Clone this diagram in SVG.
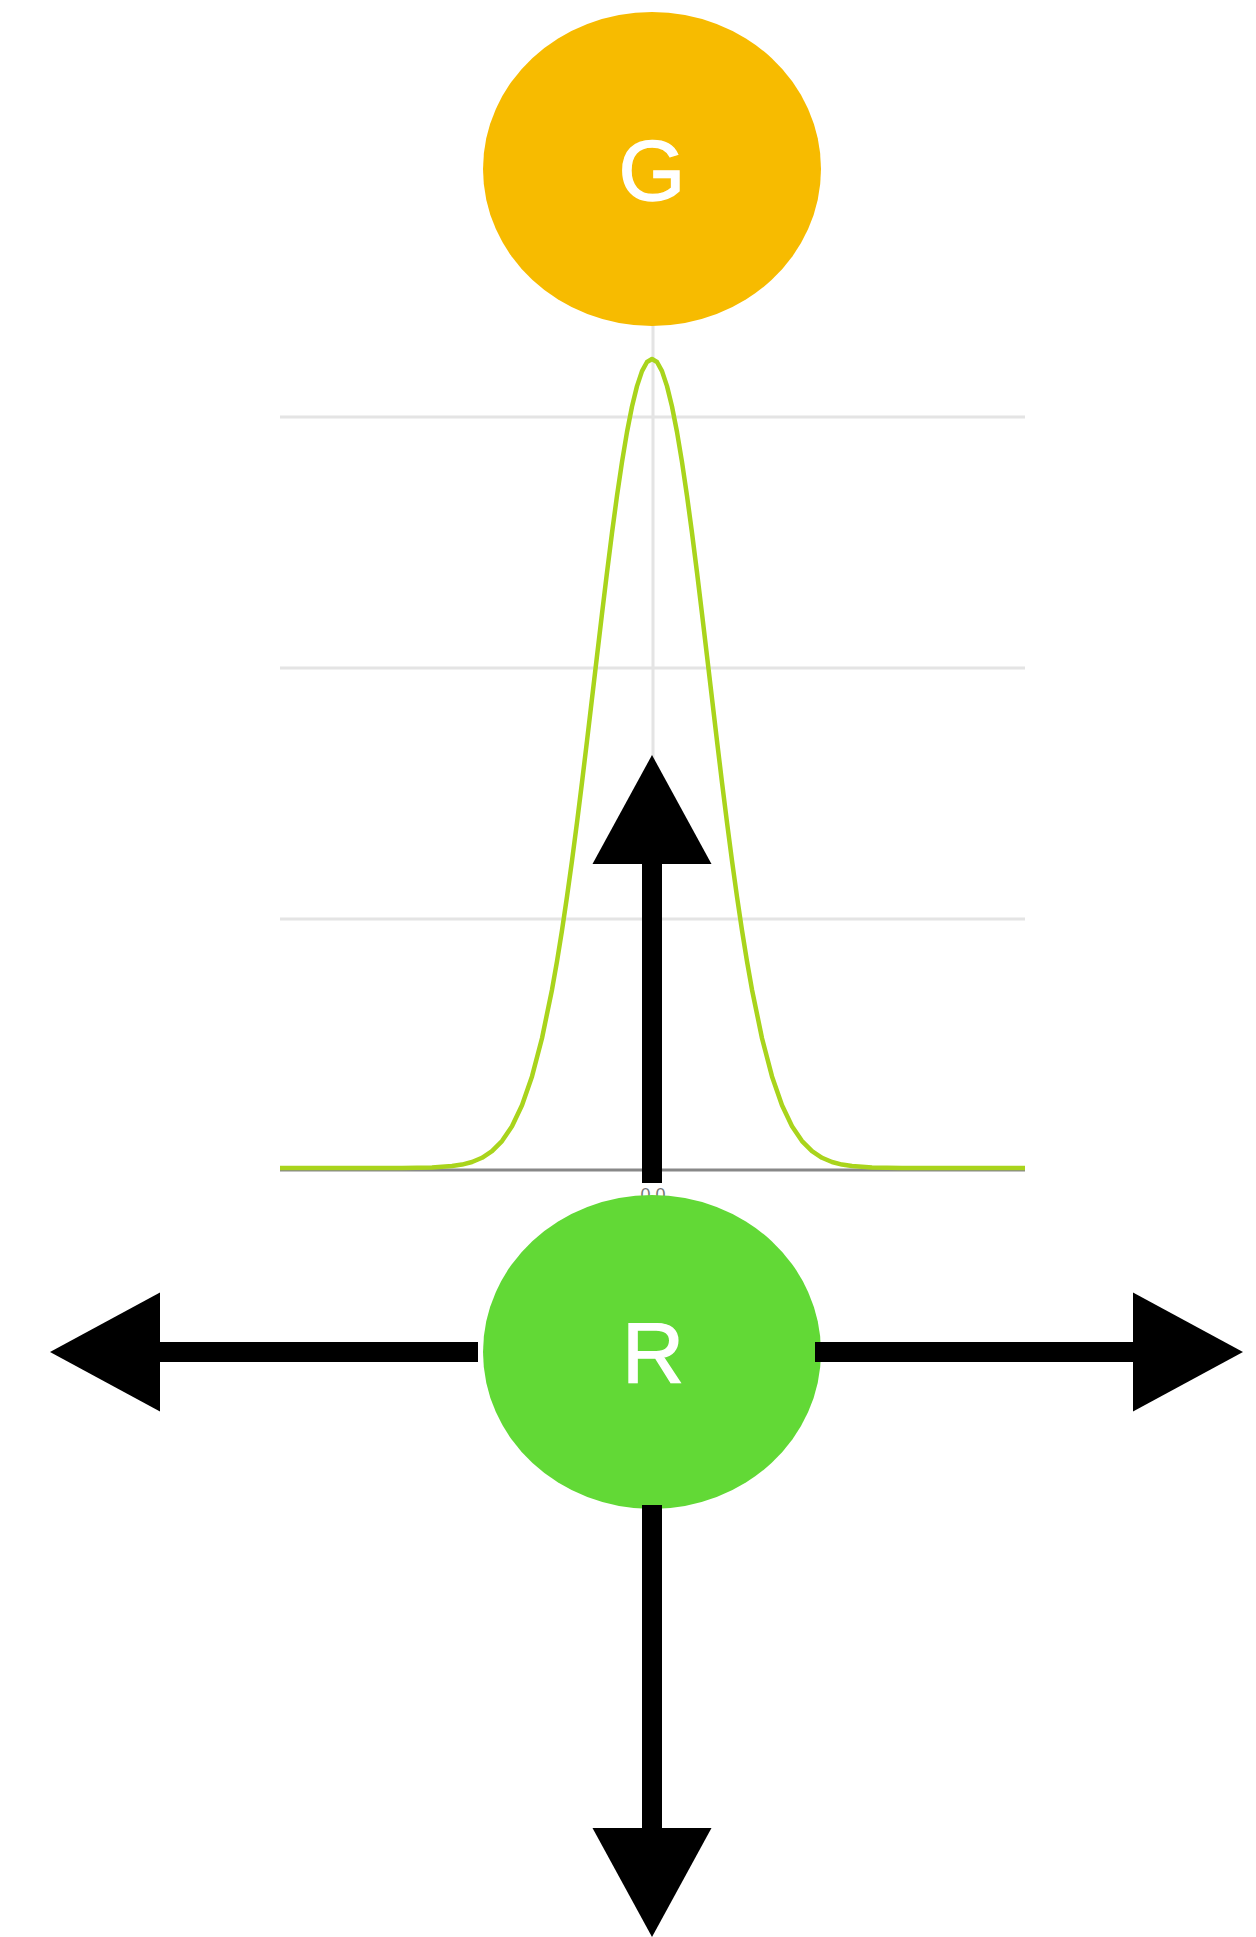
<svg xmlns="http://www.w3.org/2000/svg" width="1256" height="1937" viewBox="0 0 1256 1937">
<style>
.grid{stroke:#e4e4e4;stroke-width:3;fill:none}
.axis{stroke:#888888;stroke-width:3;fill:none}
.curve{stroke:#a9d41c;stroke-width:4.5;fill:none;stroke-linejoin:round}
.tick{font-family:"Liberation Sans",Arial,sans-serif;font-size:18px;fill:#777777}
.lbl{font-family:"Liberation Sans",Arial,sans-serif;font-size:86px;fill:#ffffff;stroke:#ffffff;stroke-width:1.4px}
.shaft{fill:#000000}
.head{fill:#000000}
</style>
<rect width="1256" height="1937" fill="#ffffff"/>
<g id="chart">
<line class="grid" x1="653" y1="300" x2="653" y2="1170"/>
<line class="grid" x1="280" y1="417" x2="1025" y2="417"/>
<line class="grid" x1="280" y1="668" x2="1025" y2="668"/>
<line class="grid" x1="280" y1="919" x2="1025" y2="919"/>
<line class="axis" x1="280" y1="1170" x2="1025" y2="1170"/>
<text class="tick" x="653" y="1201" text-anchor="middle">0.0</text>
<polyline class="curve" points="280,1168 402,1167.9 432,1167.5 452,1166.1 462,1164.6 472,1162 482,1157.8 492,1151.2 502,1141.1 512,1126.3 522,1105.2 532,1076.4 542,1038.2 552,989.7 557,961.4 562,930.3 567,896.7 572,860.7 577,822.5 582,782.4 587,741 592,698.6 597,656 602,613.7 607,572.4 612,532.9 617,495.8 622,462 627,432 632,406.5 637,386.1 642,371.1 647,362 652,359 657,362 662,371.1 667,386.1 672,406.5 677,432 682,462 687,495.8 692,532.9 697,572.4 702,613.7 707,656 712,698.6 717,741 722,782.4 727,822.5 732,860.7 737,896.7 742,930.3 747,961.4 752,989.7 762,1038.2 772,1076.4 782,1105.2 792,1126.3 802,1141.1 812,1151.2 822,1157.8 832,1162 842,1164.6 852,1166.1 872,1167.5 902,1167.9 1025,1168"/>
</g>
<g id="node-G">
<ellipse cx="652" cy="169" rx="169" ry="157" fill="#f7bb00"/>
<text class="lbl" x="652" y="200" text-anchor="middle">G</text>
</g>
<g id="node-R">
<ellipse cx="652" cy="1352" rx="169" ry="157" fill="#62d936"/>
<text class="lbl" x="653" y="1382" text-anchor="middle">R</text>
</g>
<g id="connectors">
<rect class="shaft" x="642" y="860" width="20" height="323"/>
<polygon class="head" points="652,755 711.5,864 592.5,864"/>
<rect class="shaft" x="642" y="1505" width="20" height="327"/>
<polygon class="head" points="592.5,1828 711.5,1828 652,1937"/>
<rect class="shaft" x="156" y="1342" width="322" height="20"/>
<polygon class="head" points="50,1352 160,1292.5 160,1411.5"/>
<rect class="shaft" x="815" y="1342" width="322" height="20"/>
<polygon class="head" points="1243,1352 1133,1292.5 1133,1411.5"/>
</g>
</svg>
